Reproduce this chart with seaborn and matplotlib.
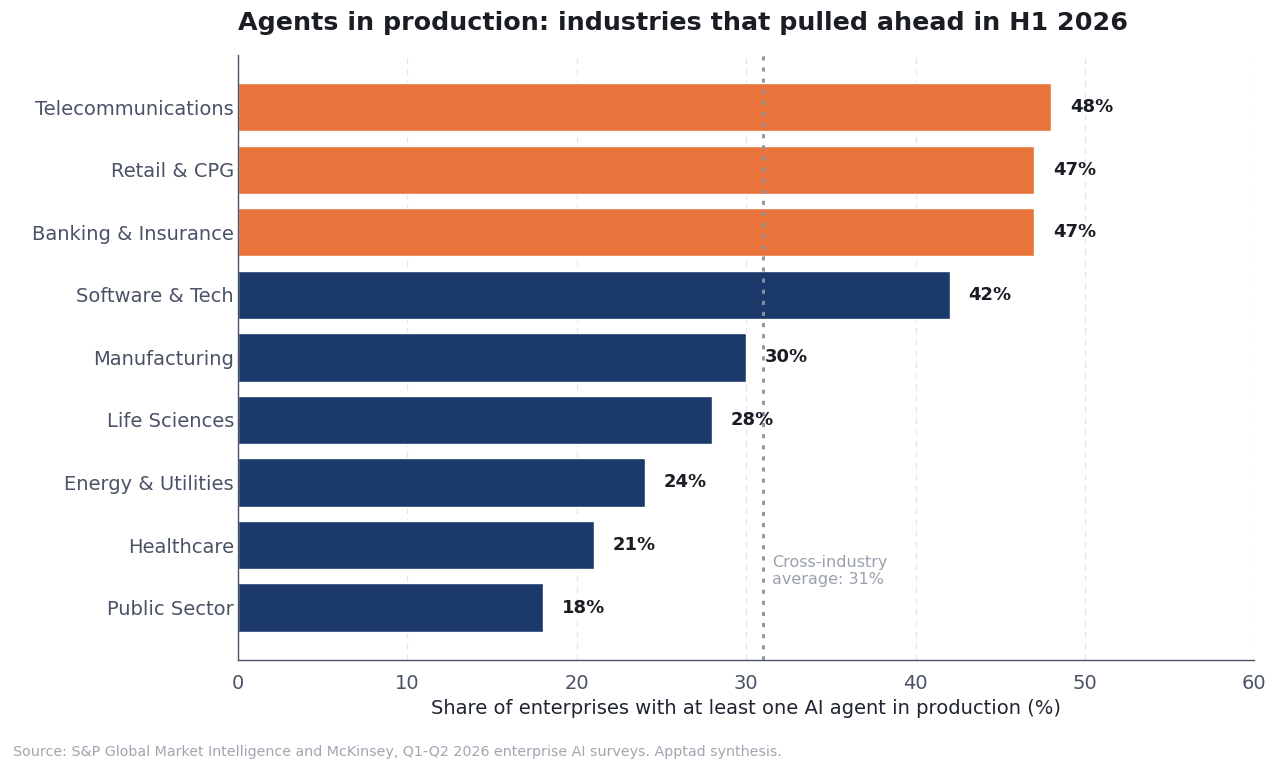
import matplotlib
matplotlib.use("Agg")
import matplotlib.pyplot as plt
import seaborn as sns
import pandas as pd

industries = ["Telecommunications", "Retail & CPG", "Banking & Insurance", "Software & Tech",
              "Manufacturing", "Life Sciences", "Energy & Utilities", "Healthcare", "Public Sector"]
shares = [48, 47, 47, 42, 30, 28, 24, 21, 18]
leaders = [True, True, True, False, False, False, False, False, False]
average = 31

sns.set_theme(style="white")
plt.rcParams['font.family'] = ['DejaVu Sans']

df = pd.DataFrame({"industry": industries, "share": shares,
                   "group": ["lead" if l else "rest" for l in leaders]})

fig = plt.figure(figsize=(12.8, 7.72), dpi=100)
ax = fig.add_axes([0.186, 0.145, 0.794, 0.784])
sns.barplot(data=df, y="industry", x="share", hue="group", dodge=False,
            palette={"lead": "#E8743B", "rest": "#1B3A6B"}, width=0.77,
            legend=False, ax=ax, saturation=1)
ax.set_xlim(0, 60)
ax.set_ylim(8.84, -0.84)
ax.set_xticks(range(0, 61, 10))
ax.grid(axis="x", linestyle=(0, (5, 4)), color="#e3e6ea", linewidth=0.9)
ax.set_axisbelow(True)
for s in ["top", "right"]:
    ax.spines[s].set_visible(False)
for s in ["left", "bottom"]:
    ax.spines[s].set_color("#4a5266")
    ax.spines[s].set_linewidth(1.0)
ax.tick_params(axis="both", labelsize=14, colors="#4a5266", length=0, pad=3)
ax.tick_params(axis="x", length=5, color="#4a5266", pad=5)
ax.set_ylabel("")
ax.set_xlabel("Share of enterprises with at least one AI agent in production (%)",
              fontsize=14, color="#1f2430")
for i, v in enumerate(shares):
    ax.text(v + 1.1, i, f"{v}%", va="center", ha="left", fontsize=13,
            fontweight="bold", color="#1a1d24")
ax.axvline(average, color="#8a93a3", linestyle=(0, (1.5, 2.5)), linewidth=2)
ax.text(average + 0.5, 7.42, "Cross-industry\naverage: 31%", fontsize=11.5,
        color="#9aa1ad", va="center", ha="left")
fig.text(0.186, 0.97, "Agents in production: industries that pulled ahead in H1 2026",
         fontsize=18.3, fontweight="bold", color="#1a1d24", ha="left", va="center")
fig.text(0.01, 0.026, "Source: S&P Global Market Intelligence and McKinsey, Q1-Q2 2026 enterprise AI surveys. Apptad synthesis.",
         fontsize=10.3, color="#a0a6b0", ha="left", va="center")
fig.savefig("out.png", dpi=100)
